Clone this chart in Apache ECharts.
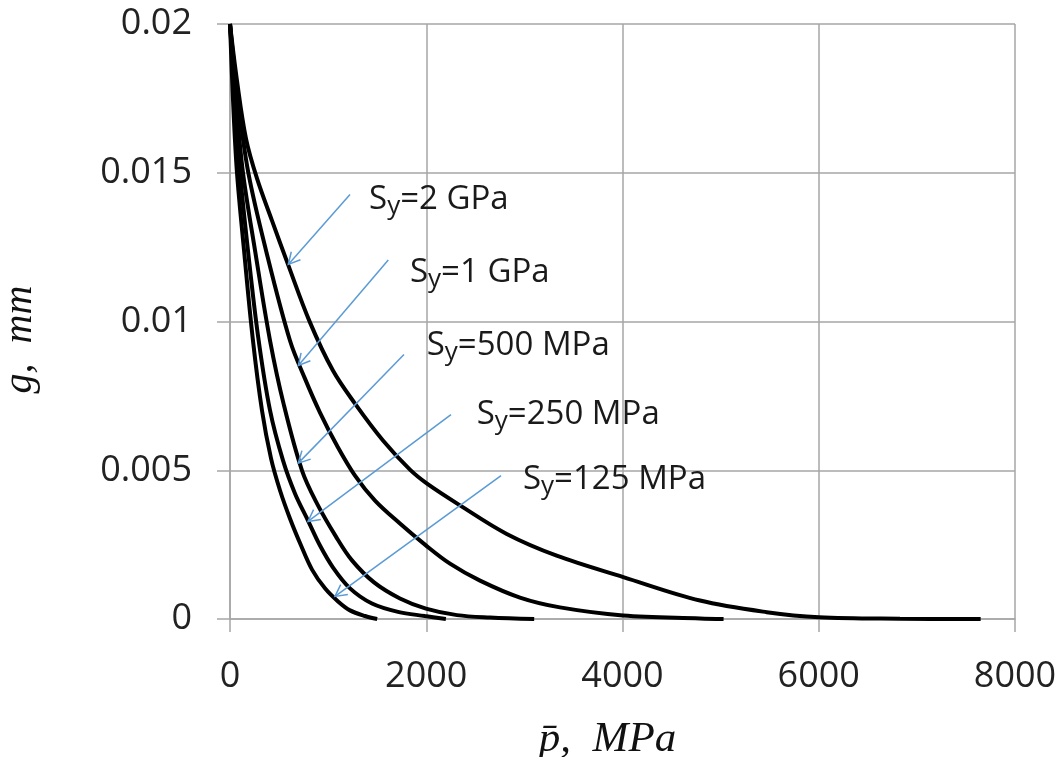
<!DOCTYPE html>
<html>
<head>
<meta charset="utf-8">
<script src="https://cdn.jsdelivr.net/npm/echarts@6/dist/echarts.min.js"></script>
<style>
  html, body { margin: 0; padding: 0; background: #fff; }
  #chart { width: 1060px; height: 757px; }
</style>
</head>
<body>
<div id="chart"></div>
<script>
// Mean contact pressure (MPa) vs. gap (mm) for five yield strengths
const pressure125 = [0, 31, 71, 143, 234, 326, 418, 510, 611, 724, 836, 968, 1101, 1223, 1376, 1500];
const gap125      = [0.0200, 0.01743, 0.01501, 0.01239, 0.00936, 0.00701, 0.00540, 0.00432, 0.00338, 0.00247, 0.00166, 0.00103, 0.00059, 0.00029, 0.00010, 0];

const pressure250 = [0, 51, 102, 183, 285, 408, 540, 662, 795, 917, 1050, 1223, 1447, 1712, 1987, 2200];
const gap250      = [0.0200, 0.01743, 0.01501, 0.01239, 0.00953, 0.00701, 0.00533, 0.00422, 0.00331, 0.00247, 0.00173, 0.00103, 0.00052, 0.00024, 0.00010, 0];

const pressure500 = [0, 61, 132, 255, 408, 550, 734, 887, 1080, 1243, 1468, 1732, 1997, 2313, 2650, 3100];
const gap500      = [0.0200, 0.01743, 0.01501, 0.01239, 0.00936, 0.00718, 0.00499, 0.00388, 0.00277, 0.00197, 0.00123, 0.00069, 0.00035, 0.00013, 0.00005, 0];

const pressure1G = [0, 82, 186, 367, 611, 764, 917, 1090, 1274, 1478, 1732, 1987, 2242, 2548, 2955, 3363, 4005, 4790, 5030];
const gap1G      = [0.0200, 0.01743, 0.01501, 0.01239, 0.00936, 0.00808, 0.00694, 0.00583, 0.00482, 0.00398, 0.00321, 0.00250, 0.00186, 0.00129, 0.00072, 0.00039, 0.00012, 0.00002, 0];

const pressure2G = [0, 71, 163, 275, 428, 591, 815, 1049, 1274, 1559, 1834, 2008, 2344, 2820, 3329, 4008, 4790, 5470, 6003, 6828, 7650];
const gap2G      = [0.0200, 0.01810, 0.01615, 0.01481, 0.01339, 0.01192, 0.00997, 0.00835, 0.00724, 0.00600, 0.00502, 0.00455, 0.00382, 0.00286, 0.00213, 0.00141, 0.00062, 0.00023, 0.00006, 0.00001, 0];

// Callout labels and their arrows, in data units (MPa, mm)
const calloutText = ['2 GPa', '1 GPa', '500 MPa', '250 MPa', '125 MPa'];
const labelP  = [1417, 1834, 2005, 2514, 2986];
const labelG  = [0.01420, 0.01176, 0.00929, 0.00697, 0.00479];
const tailP   = [1223, 1613, 1773, 2252, 2762];
const tailG   = [0.01427, 0.01207, 0.00889, 0.00687, 0.00482];
const tipP    = [594, 696, 696, 795, 1070];
const tipG    = [0.01192, 0.00852, 0.00524, 0.00328, 0.00076];

const xTicks = { min: 0, max: 8000, interval: 2000 };
const yTicks = { min: 0, max: 0.02, interval: 0.005 };

const zip = (xs, ys) => xs.map((x, i) => [x, ys[i]]);

const curves = [
  zip(pressure2G, gap2G),
  zip(pressure1G, gap1G),
  zip(pressure500, gap500),
  zip(pressure250, gap250),
  zip(pressure125, gap125)
];

const gridGray = '#a6a6a6';
const arrowBlue = '#5b9bd5';

const axisCommon = {
  type: 'value',
  axisLine: { show: true, lineStyle: { color: gridGray, width: 1.5 } },
  axisTick: { show: true, length: 13, lineStyle: { color: gridGray, width: 1.5 } },
  splitLine: { show: true, lineStyle: { color: gridGray, width: 1.5 } }
};

function renderCallout(params, api) {
  const i = params.dataIndex;
  const tail = api.coord([tailP[i], tailG[i]]);
  const tip = api.coord([tipP[i], tipG[i]]);
  const at = api.coord([labelP[i], labelG[i]]);
  const dx = tail[0] - tip[0], dy = tail[1] - tip[1];
  const len = Math.hypot(dx, dy);
  const ux = dx / len, uy = dy / len;
  const headLen = 13, ang = 28 * Math.PI / 180;
  const rot = (a) => [
    tip[0] + headLen * (ux * Math.cos(a) - uy * Math.sin(a)),
    tip[1] + headLen * (ux * Math.sin(a) + uy * Math.cos(a))
  ];
  const stroke = { stroke: arrowBlue, lineWidth: 1.5, fill: null };
  return {
    type: 'group',
    children: [
      { type: 'line', shape: { x1: tail[0], y1: tail[1], x2: tip[0], y2: tip[1] }, style: stroke },
      { type: 'polyline', shape: { points: [rot(ang), tip, rot(-ang)] }, style: stroke },
      {
        type: 'text',
        x: at[0],
        y: at[1] + 3,
        style: {
          text: '{s|S}{sub|y}{s|=' + calloutText[i] + '}',
          align: 'left',
          verticalAlign: 'middle',
          rich: {
            s: { fontFamily: 'Open Sans', fontSize: 33, lineHeight: 40, fill: '#1a1a1a' },
            sub: { fontFamily: 'Open Sans', fontSize: 26, lineHeight: 24, verticalAlign: 'bottom', fill: '#1a1a1a' }
          }
        }
      }
    ]
  };
}

const chart = echarts.init(document.getElementById('chart'), null, { renderer: 'canvas' });

chart.setOption({
  backgroundColor: '#fff',
  animation: false,
  grid: { left: 230, right: 45, top: 24, bottom: 138, outerBoundsMode: 'none', containLabel: false },
  xAxis: Object.assign({}, axisCommon, xTicks, {
    axisLabel: { margin: 40, fontSize: 36, fontFamily: 'Open Sans', color: '#222', formatter: (v) => String(v) },
    name: 'p\u0304,  MPa',
    nameLocation: 'middle',
    nameGap: 99,
    nameTextStyle: { fontFamily: 'Liberation Serif', fontStyle: 'italic', fontSize: 43, color: '#111', padding: [0, 30, 0, 0] }
  }),
  yAxis: Object.assign({}, axisCommon, yTicks, {
    axisLabel: { margin: 38, fontSize: 36, fontFamily: 'Open Sans', color: '#222' },
    name: 'g,  mm',
    nameLocation: 'middle',
    nameGap: 190,
    nameRotate: 90,
    nameTextStyle: { fontFamily: 'Liberation Serif', fontStyle: 'italic', fontSize: 40, color: '#111', padding: [0, 36, 0, 0] }
  }),
  series: curves.map((d) => ({
    type: 'line',
    data: d,
    showSymbol: false,
    smooth: 0.35,
    lineStyle: { color: '#000', width: 4 },
    z: 3
  })).concat([{
    type: 'custom',
    coordinateSystem: 'cartesian2d',
    data: labelP.map((p, i) => [p, labelG[i]]),
    renderItem: renderCallout,
    clip: false,
    silent: true,
    z: 4
  }])
});
</script>
</body>
</html>
